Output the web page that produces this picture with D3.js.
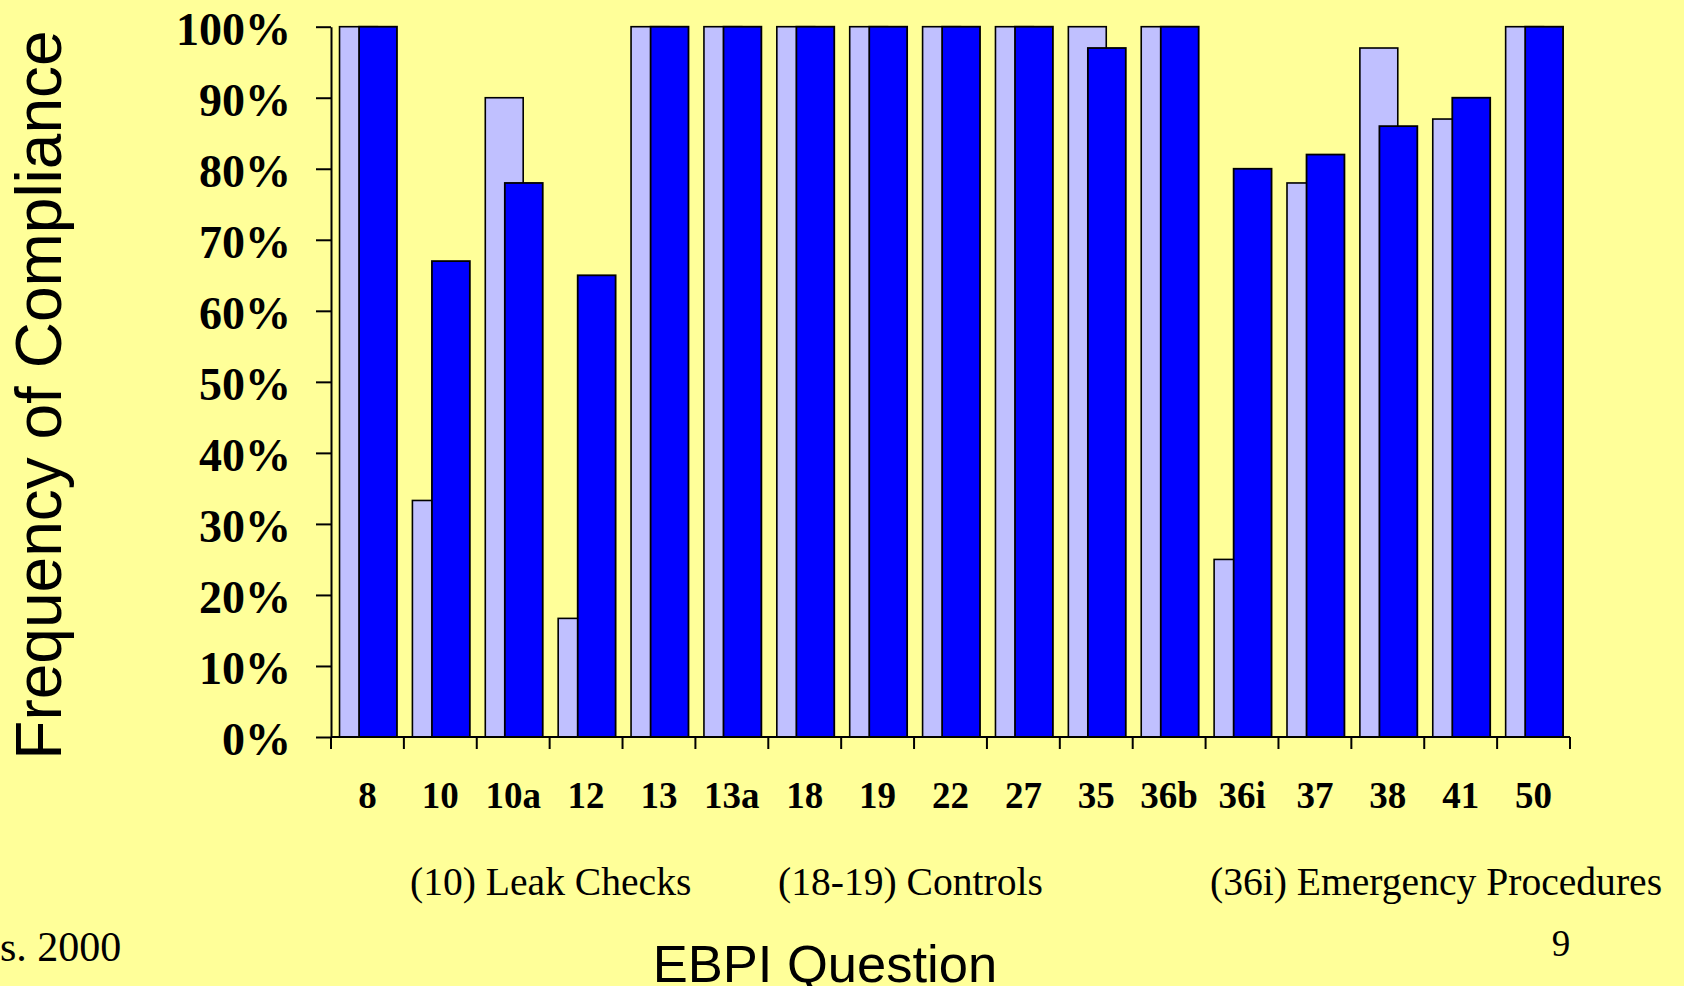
<!DOCTYPE html>
<html>
<head>
<meta charset="utf-8">
<script src="https://cdn.jsdelivr.net/npm/d3@7"></script>
<style>
  html, body { margin: 0; padding: 0; background: #FFFF99; }
  svg { display: block; }
</style>
</head>
<body>
<div id="chart"></div>
<script>
"use strict";

// EBPI question numbers along the x axis
var categories = ["8", "10", "10a", "12", "13", "13a", "18", "19", "22", "27", "35", "36b", "36i", "37", "38", "41", "50"];
// compliance, percent (light series drawn behind, dark series in front)
var lightValues = [100, 33.3, 90, 16.7, 100, 100, 100, 100, 100, 100, 100, 100, 25, 78, 97, 87, 100];
var darkValues = [100, 67, 78, 65, 100, 100, 100, 100, 100, 100, 97, 100, 80, 82, 86, 90, 100];
var yTicks = [0, 10, 20, 30, 40, 50, 60, 70, 80, 90, 100];
var notes = ["(10) Leak Checks", "(18-19) Controls", "(36i) Emergency Procedures"];

var width = 1684, height = 986;
var plotLeft = 331, plotRight = 1570, plotTop = 26.7, plotBottom = 737;

var svg = d3.select("#chart").append("svg")
    .attr("width", width)
    .attr("height", height);

svg.append("rect")
    .attr("width", width)
    .attr("height", height)
    .attr("fill", "#FFFF99");

var x = d3.scaleBand().domain(categories).range([plotLeft, plotRight]).padding(0);
var y = d3.scaleLinear().domain([0, 100]).range([plotBottom, plotTop]);

var bw = x.bandwidth();
var barWidth = bw * 0.52;
var lightOffset = bw * 0.117;
var darkOffset = bw * 0.385;

var rows = categories.map((c, i) => ({ cat: c, light: lightValues[i], dark: darkValues[i] }));

var bars = svg.append("g").attr("class", "bars");

bars.selectAll("rect.light")
    .data(rows)
    .enter().append("rect")
    .attr("class", "light")
    .attr("x", d => x(d.cat) + lightOffset)
    .attr("y", d => y(d.light))
    .attr("width", barWidth)
    .attr("height", d => y(0) - y(d.light))
    .attr("fill", "#C0C0FF")
    .attr("stroke", "#000")
    .attr("stroke-width", 1.6);

bars.selectAll("rect.dark")
    .data(rows)
    .enter().append("rect")
    .attr("class", "dark")
    .attr("x", d => x(d.cat) + darkOffset)
    .attr("y", d => y(d.dark))
    .attr("width", barWidth)
    .attr("height", d => y(0) - y(d.dark))
    .attr("fill", "#0000FF")
    .attr("stroke", "#000")
    .attr("stroke-width", 1.8);

var serif = "'Liberation Serif', 'Times New Roman', serif";
var sans = "'Liberation Sans', Arial, sans-serif";

// y axis
var yAxis = svg.append("g")
    .attr("transform", "translate(" + plotLeft + ",0)")
    .call(d3.axisLeft(y)
        .tickValues(yTicks)
        .tickSize(15)
        .tickSizeOuter(0)
        .tickPadding(25)
        .tickFormat(d => d + "%"));
yAxis.select(".domain").attr("stroke-width", 2);
yAxis.selectAll(".tick line").attr("stroke-width", 2);
yAxis.selectAll(".tick text")
    .attr("dy", "0.38em")
    .style("font-family", serif)
    .style("font-weight", "bold")
    .style("font-size", "46px")
    .attr("fill", "#000");

// x axis: labels centred, tick marks on category boundaries
var xAxis = svg.append("g")
    .attr("transform", "translate(0," + plotBottom + ")")
    .call(d3.axisBottom(x).tickSize(0).tickPadding(45));
xAxis.select(".domain").remove();
xAxis.selectAll(".tick text")
    .style("font-family", serif)
    .style("font-weight", "bold")
    .style("font-size", "37px")
    .attr("fill", "#000");

var bounds = categories.map(c => x(c)).concat([x.range()[1]]);
svg.append("g").selectAll("line")
    .data(bounds)
    .enter().append("line")
    .attr("x1", d => d).attr("x2", d => d)
    .attr("y1", plotBottom).attr("y2", plotBottom + 12)
    .attr("stroke", "#000").attr("stroke-width", 2);

svg.append("line")
    .attr("x1", plotLeft).attr("x2", plotRight)
    .attr("y1", plotBottom).attr("y2", plotBottom)
    .attr("stroke", "#000").attr("stroke-width", 2);

// axis titles
svg.append("text")
    .attr("transform", "translate(61,395) rotate(-90)")
    .attr("text-anchor", "middle")
    .style("font-family", sans)
    .style("font-size", "64px")
    .text("Frequency of Compliance");

svg.append("text")
    .attr("x", 825).attr("y", 982)
    .attr("text-anchor", "middle")
    .style("font-family", sans)
    .style("font-size", "52.5px")
    .text("EBPI Question");

// notes under the axis
var noteX = [410, 778, 1210];
svg.append("g").selectAll("text")
    .data(notes)
    .enter().append("text")
    .attr("x", (d, i) => noteX[i])
    .attr("y", 895)
    .style("font-family", serif)
    .style("font-size", "39.6px")
    .text(d => d);

svg.append("text")
    .attr("x", 0).attr("y", 961)
    .style("font-family", serif)
    .style("font-size", "42px")
    .text("s. 2000");

svg.append("text")
    .attr("x", 1561).attr("y", 956)
    .attr("text-anchor", "middle")
    .style("font-family", serif)
    .style("font-size", "37px")
    .text("9");
</script>
</body>
</html>
